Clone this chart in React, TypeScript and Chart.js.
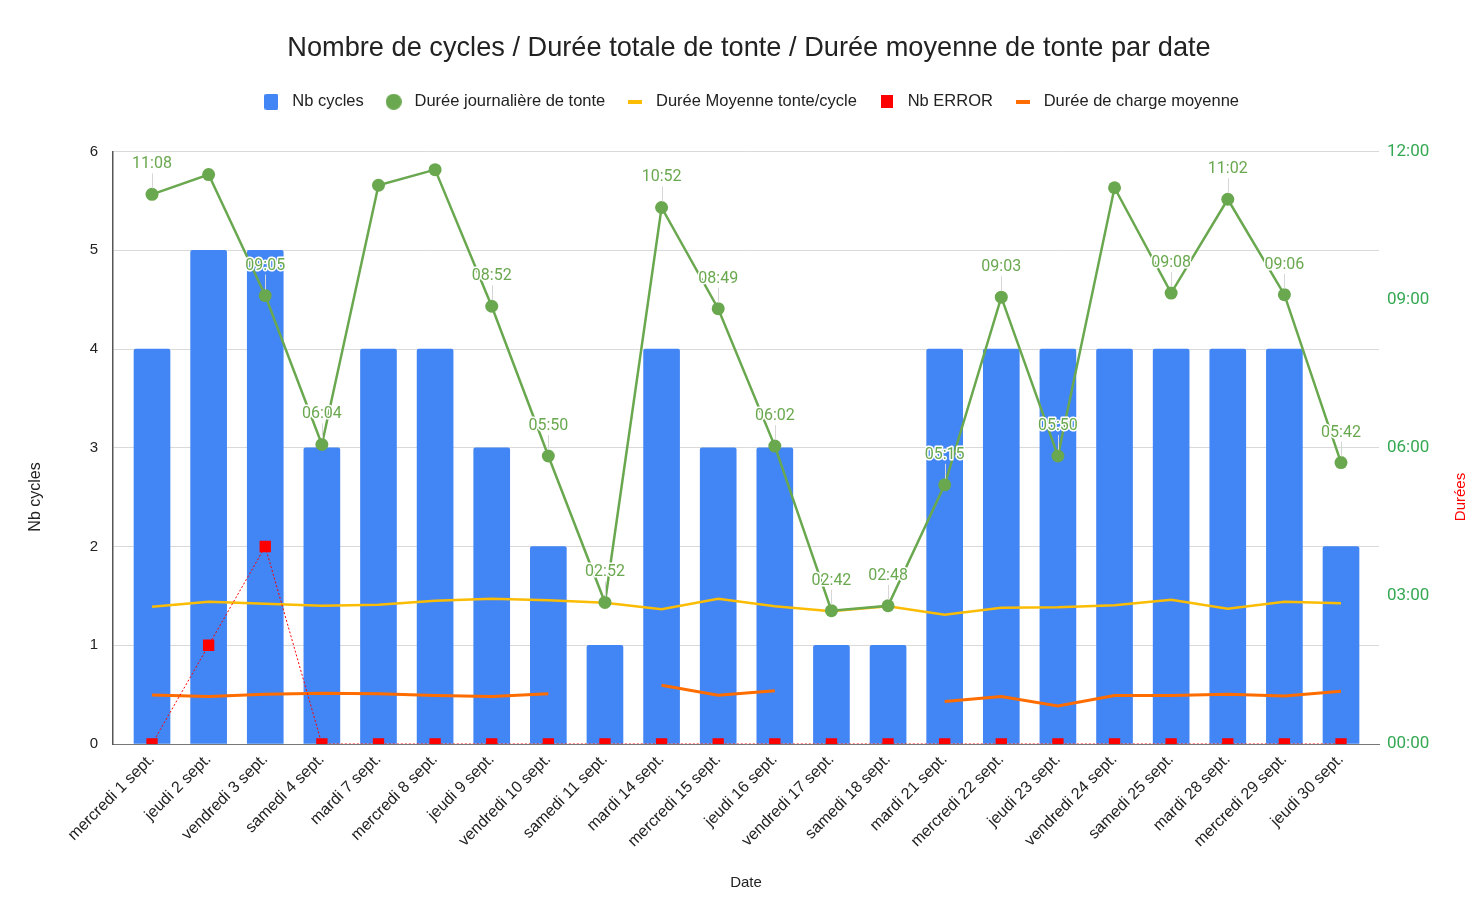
import React, { useEffect, useRef } from "react";
import { Chart, registerables } from "chart.js";

Chart.register(...registerables);

const chartTitle = "Nombre de cycles / Durée totale de tonte / Durée moyenne de tonte par date";

const dates = [
  "mercredi 1 sept.", "jeudi 2 sept.", "vendredi 3 sept.", "samedi 4 sept.",
  "mardi 7 sept.", "mercredi 8 sept.", "jeudi 9 sept.", "vendredi 10 sept.",
  "samedi 11 sept.", "mardi 14 sept.", "mercredi 15 sept.", "jeudi 16 sept.",
  "vendredi 17 sept.", "samedi 18 sept.", "mardi 21 sept.", "mercredi 22 sept.",
  "jeudi 23 sept.", "vendredi 24 sept.", "samedi 25 sept.", "mardi 28 sept.",
  "mercredi 29 sept.", "jeudi 30 sept.",
];

const nbCycles = [4, 5, 5, 3, 4, 4, 3, 2, 1, 4, 3, 3, 1, 1, 4, 4, 4, 4, 4, 4, 4, 2];

const dureeJournaliere = [
  "11:08", "11:32", "09:05", "06:04", "11:19", "11:38", "08:52", "05:50",
  "02:52", "10:52", "08:49", "06:02", "02:42", "02:48", "05:15", "09:03",
  "05:50", "11:16", "09:08", "11:02", "09:06", "05:42",
];

const etiquetteVisible = [
  true, false, true, true, false, false, true, true, true, true, true,
  true, true, true, true, true, true, false, true, true, true, true,
];

// hours
const dureeMoyenneCycle = [
  2.78, 2.88, 2.84, 2.8, 2.82, 2.9, 2.94, 2.91, 2.86, 2.73, 2.94,
  2.79, 2.69, 2.79, 2.62, 2.76, 2.77, 2.81, 2.92, 2.74, 2.88, 2.85,
];

const nbErrors = [0, 1, 2, 0, 0, 0, 0, 0, 0, 0, 0, 0, 0, 0, 0, 0, 0, 0, 0, 0, 0, 0];

// hours
const dureeCharge = [
  0.99, 0.96, 1.01, 1.03, 1.02, 0.98, 0.96, 1.02, null, 1.19, 0.99,
  1.08, null, null, 0.86, 0.96, 0.77, 0.98, 0.98, 1.01, 0.97, 1.07,
];

const legendLabels = [
  "Nb cycles",
  "Durée journalière de tonte",
  "Durée Moyenne tonte/cycle",
  "Nb ERROR",
  "Durée de charge moyenne",
];

const leftAxisTitle = "Nb cycles";
const rightAxisTitle = "Durées";
const xAxisTitle = "Date";

const COLORS = {
  bar: "#4285f4",
  green: "#6aa84f",
  yellow: "#fbbc04",
  red: "#ff0000",
  orange: "#ff6d01",
  axisGreen: "#34a853",
};

const ARIAL = "'Liberation Sans', Arial, sans-serif";
const ROBOTO = "Roboto, 'Liberation Sans', Arial, sans-serif";

const toHours = (s: string) => {
  const [h, m] = s.split(":").map(Number);
  return h + m / 60;
};

function makeMarker(kind: string, color: string): HTMLCanvasElement {
  const c = document.createElement("canvas");
  const ctx = c.getContext("2d")!;
  if (kind === "rect") {
    c.width = 14; c.height = 16;
    ctx.fillStyle = color;
    ctx.beginPath();
    (ctx as any).roundRect ? (ctx as any).roundRect(0, 0, 14, 16, 2) : ctx.rect(0, 0, 14, 16);
    ctx.fill();
  } else if (kind === "circle") {
    c.width = 16; c.height = 16;
    ctx.fillStyle = color;
    ctx.beginPath();
    ctx.arc(8, 8, 8, 0, Math.PI * 2);
    ctx.fill();
  } else if (kind === "line") {
    c.width = 14; c.height = 4;
    ctx.fillStyle = color;
    ctx.fillRect(0, 0, 14, 4);
  } else {
    c.width = 12; c.height = 13;
    ctx.fillStyle = color;
    ctx.fillRect(0, 0, 12, 13);
  }
  return c;
}

export default function App() {
  const ref = useRef<HTMLCanvasElement | null>(null);

  useEffect(() => {
    document.body.style.margin = "0";
    const canvas = ref.current;
    if (!canvas) return;

    const markers = [
      makeMarker("rect", COLORS.bar),
      makeMarker("circle", COLORS.green),
      makeMarker("line", COLORS.yellow),
      makeMarker("square", COLORS.red),
      makeMarker("line", COLORS.orange),
    ];
    const markerColors = [COLORS.bar, COLORS.green, COLORS.yellow, COLORS.red, COLORS.orange];

    const legendSpacing = {
      id: "legendSpacing",
      beforeInit(chart: any) {
        const legend = chart.legend;
        if (!legend) return;
        const orig = legend.fit;
        legend.fit = function () {
          orig.call(this);
          this.height += 31.5;
        };
      },
    };

    const dataLabels = {
      id: "dataLabels",
      afterDatasetsDraw(chart: any) {
        const meta = chart.getDatasetMeta(1);
        const ctx = chart.ctx;
        ctx.save();
        ctx.font = `16px ${ROBOTO}`;
        ctx.textAlign = "center";
        ctx.textBaseline = "middle";
        meta.data.forEach((pt: any, i: number) => {
          if (!etiquetteVisible[i]) return;
          const { x, y } = pt.getProps(["x", "y"], true);
          const ly = y - 30;
          ctx.strokeStyle = "#d6d6d6";
          ctx.lineWidth = 1;
          ctx.beginPath();
          ctx.moveTo(Math.round(x) + 0.5, ly + 9);
          ctx.lineTo(Math.round(x) + 0.5, y - 6);
          ctx.stroke();
          const txt = dureeJournaliere[i];
          ctx.lineWidth = 3;
          ctx.lineJoin = "round";
          ctx.strokeStyle = "#ffffff";
          ctx.strokeText(txt, x, ly);
          ctx.fillStyle = COLORS.green;
          ctx.fillText(txt, x, ly);
        });
        ctx.restore();
      },
    };

    const axisTitles = {
      id: "axisTitles",
      afterDraw(chart: any) {
        const ctx = chart.ctx;
        const cy = 497;
        ctx.save();
        ctx.textAlign = "center";
        ctx.textBaseline = "middle";
        ctx.translate(36, cy);
        ctx.rotate(-Math.PI / 2);
        ctx.font = `16px ${ARIAL}`;
        ctx.fillStyle = "#222222";
        ctx.fillText(leftAxisTitle, 0, 0);
        ctx.restore();
        ctx.save();
        ctx.textAlign = "center";
        ctx.textBaseline = "middle";
        ctx.translate(1461, cy);
        ctx.rotate(-Math.PI / 2);
        ctx.font = `15px ${ARIAL}`;
        ctx.fillStyle = COLORS.red;
        ctx.fillText(rightAxisTitle, 0, 0);
        ctx.restore();
      },
    };

    const pts = (arr: (number | null)[]) => arr.map((v, i) => ({ x: i, y: v }));

    const chart = new Chart(canvas, {
      type: "bar",
      data: {
        datasets: [
          {
            type: "bar",
            label: legendLabels[0],
            data: pts(nbCycles) as any,
            backgroundColor: COLORS.bar,
            barThickness: 36,
            borderRadius: { topLeft: 2, topRight: 2, bottomLeft: 0, bottomRight: 0 },
            borderSkipped: false,
            yAxisID: "y",
            order: 5,
          },
          {
            type: "line",
            label: legendLabels[1],
            data: pts(dureeJournaliere.map(toHours)) as any,
            borderColor: COLORS.green,
            backgroundColor: COLORS.green,
            pointBackgroundColor: COLORS.green,
            borderWidth: 2.5,
            pointRadius: 6.5,
            pointBorderWidth: 0,
            tension: 0,
            yAxisID: "y1",
            order: 1,
          },
          {
            type: "line",
            label: legendLabels[2],
            data: pts(dureeMoyenneCycle) as any,
            borderColor: COLORS.yellow,
            borderWidth: 2.5,
            pointRadius: 0,
            tension: 0,
            yAxisID: "y1",
            order: 3,
          },
          {
            type: "line",
            label: legendLabels[3],
            data: pts(nbErrors) as any,
            borderColor: COLORS.red,
            borderWidth: 1,
            borderDash: [2, 2],
            pointStyle: "rect",
            pointRadius: 8,
            pointBackgroundColor: COLORS.red,
            pointBorderWidth: 0,
            tension: 0,
            yAxisID: "y",
            order: 0,
          },
          {
            type: "line",
            label: legendLabels[4],
            data: pts(dureeCharge) as any,
            borderColor: COLORS.orange,
            borderWidth: 3,
            pointRadius: 0,
            spanGaps: false,
            tension: 0,
            yAxisID: "y1",
            order: 4,
          },
        ],
      },
      options: {
        responsive: false,
        animation: false,
        events: [],
        layout: { padding: { left: 14, right: 0, top: 0, bottom: 0 } },
        plugins: {
          title: {
            display: true,
            text: chartTitle,
            color: "#222222",
            font: { family: ARIAL, size: 27.2, weight: "normal" },
            padding: { top: 32.6, bottom: 10.8 },
          },
          legend: {
            display: true,
            position: "top",
            labels: {
              usePointStyle: true,
              pointStyleWidth: 25,
              padding: 17.5,
              color: "#222222",
              font: { family: ARIAL, size: 16.5 },
              generateLabels: () =>
                legendLabels.map((text, i) => ({
                  text,
                  pointStyle: markers[i] as any,
                  fillStyle: markerColors[i],
                  strokeStyle: markerColors[i],
                  lineWidth: 0,
                  hidden: false,
                  datasetIndex: i,
                  fontColor: "#222222",
                })),
            },
          },
          tooltip: { enabled: false },
        },
        scales: {
          x: {
            type: "linear",
            min: -0.689,
            max: 21.671,
            offset: false,
            grid: { display: false, drawTicks: false },
            border: { display: true, color: "#777777", width: 1 },
            ticks: {
              stepSize: 1,
              includeBounds: false,
              autoSkip: false,
              maxRotation: 45,
              minRotation: 45,
              padding: 6,
              color: "#222222",
              font: { family: ARIAL, size: 16 },
              callback: (v: any) => (Number.isInteger(v) && dates[v] ? dates[v] : ""),
            },
            title: {
              display: true,
              text: xAxisTitle,
              color: "#222222",
              font: { family: ARIAL, size: 15 },
              padding: { top: 0, bottom: 14 },
            },
            afterFit: (s: any) => {
              s.height = 162;
            },
          } as any,
          y: {
            position: "left",
            min: 0,
            max: 6,
            grid: { color: "#d9d9d9", drawTicks: false },
            border: { display: true, color: "#555555", width: 1.5 },
            ticks: {
              stepSize: 1,
              padding: 15,
              color: "#222222",
              font: { family: ARIAL, size: 15 },
            },
            title: { display: false },
            afterFit: (s: any) => {
              s.width = 99;
            },
          } as any,
          y1: {
            position: "right",
            min: 0,
            max: 12,
            grid: { display: false, drawTicks: false },
            border: { display: false },
            ticks: {
              stepSize: 3,
              padding: 8,
              color: COLORS.axisGreen,
              font: { family: ROBOTO, size: 17 },
              callback: (v: any) => String(v).padStart(2, "0") + ":00",
            },
            afterFit: (s: any) => {
              s.width = 105;
            },
          } as any,
        },
      },
      plugins: [legendSpacing, dataLabels, axisTitles],
    } as any);

    return () => chart.destroy();
  }, []);

  return (
    <div style={{ width: 1484, height: 906, background: "#ffffff" }}>
      <canvas ref={ref} width={1484} height={906} style={{ display: "block" }} />
    </div>
  );
}
